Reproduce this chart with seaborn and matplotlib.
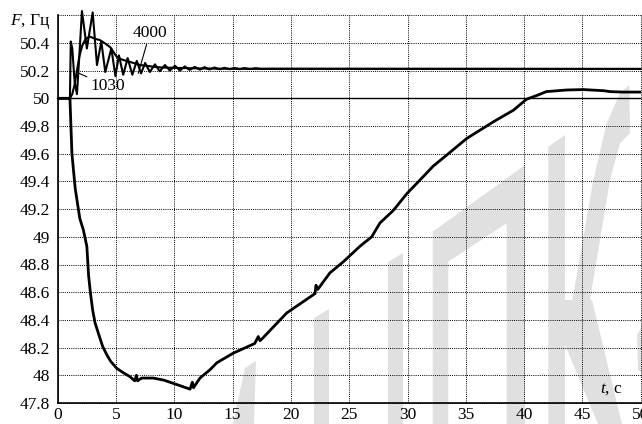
import numpy as np
import pandas as pd
import matplotlib
matplotlib.use("Agg")
import matplotlib.pyplot as plt
import seaborn as sns
from matplotlib.patches import Polygon

# ---------------- data ----------------
t_main = [0, 1.05, 1.10, 1.22, 1.50, 1.90, 2.20, 2.50, 2.65, 2.80, 3.00, 3.20, 3.50,
          3.85, 4.20, 4.55, 5.07, 5.60, 6.20, 6.60, 6.75, 6.85, 7.20, 8.20, 9.10,
          10.50, 11.35, 11.55, 11.65, 11.80, 12.20, 13.06, 13.64, 15.06, 16.90,
          17.20, 17.35, 17.60, 19.64, 22.07, 22.15, 22.30, 23.35, 24.50, 25.90,
          26.93, 27.64, 28.78, 29.93, 31.07, 32.20, 33.36, 35.08, 37.36, 39.10,
          40.20, 41.20, 41.90, 43.65, 45.10, 46.80, 47.40, 48.50, 50.0]
f_main = [50.0, 50.0, 49.88, 49.60, 49.35, 49.13, 49.05, 48.93, 48.72, 48.60, 48.47,
          48.38, 48.30, 48.21, 48.15, 48.10, 48.05, 48.02, 47.99, 47.96, 48.0,
          47.96, 47.98, 47.98, 47.965, 47.925, 47.90, 47.95, 47.91, 47.93, 47.98,
          48.04, 48.09, 48.16, 48.23, 48.28, 48.25, 48.27, 48.45, 48.59, 48.65,
          48.62, 48.74, 48.82, 48.93, 49.0, 49.10, 49.19, 49.31, 49.41, 49.51,
          49.59, 49.71, 49.83, 49.915, 49.993, 50.024, 50.048, 50.06, 50.063,
          50.055, 50.048, 50.045, 50.045]

t_4000 = [0, 1.05, 1.12, 1.25, 1.45, 1.65, 1.85, 2.08, 2.50, 3.00, 3.37, 3.74, 4.08,
          4.60, 4.95, 5.25, 5.62, 6.00, 6.40, 6.78, 7.15, 7.50, 7.90, 8.34, 8.75,
          9.20, 9.62, 10.06, 10.48, 10.90, 11.32, 11.75, 12.20, 12.60, 13.00,
          13.45, 13.90, 14.30, 14.75, 15.20, 15.60, 16.00, 16.50, 17.00, 17.50,
          18.00, 50.0]
f_4000 = [50.0, 50.0, 50.41, 50.36, 50.12, 50.03, 50.30, 50.63, 50.36, 50.62, 50.24,
          50.41, 50.19, 50.36, 50.16, 50.31, 50.17, 50.29, 50.17, 50.27, 50.18,
          50.255, 50.19, 50.245, 50.195, 50.24, 50.20, 50.235, 50.20, 50.23,
          50.205, 50.227, 50.207, 50.225, 50.208, 50.222, 50.209, 50.22, 50.21,
          50.219, 50.21, 50.218, 50.211, 50.217, 50.212, 50.213, 50.212]

t_1030 = [0, 1.05, 1.25, 1.45, 1.65, 1.85, 2.10, 2.40, 2.77, 3.20, 3.63, 4.00, 4.49,
          5.06, 5.50, 5.90, 6.50, 7.06, 7.60, 8.20, 9.00, 10.0, 11.0, 12.0, 13.5,
          15.0, 50.0]
f_1030 = [50.0, 50.0, 50.03, 50.10, 50.20, 50.30, 50.38, 50.43, 50.445, 50.43,
          50.42, 50.40, 50.37, 50.30, 50.28, 50.27, 50.255, 50.24, 50.235, 50.228,
          50.222, 50.22, 50.218, 50.216, 50.214, 50.213, 50.212]

nominal_f = 50.0
x_ticks = [0, 5, 10, 15, 20, 25, 30, 35, 40, 45, 50]
x_labels = ["0", "5", "10", "15", "20", "25", "30", "35", "40", "45", "50"]
y_ticks = [47.8, 48.0, 48.2, 48.4, 48.6, 48.8, 49.0, 49.2, 49.4, 49.6, 49.8,
           50.0, 50.2, 50.4, 50.6]
y_labels = ["47.8", "48", "48.2", "48.4", "48.6", "48.8", "49", "49.2", "49.4",
            "49.6", "49.8", "50", "50.2", "50.4", ""]

# ---------------- style ----------------
sns.set_theme(style="white")
plt.rcParams["font.family"] = ["Liberation Serif", "DejaVu Serif"]
plt.rcParams["mathtext.fontset"] = "custom"
plt.rcParams["mathtext.it"] = "Liberation Serif:italic"
plt.rcParams["mathtext.rm"] = "Liberation Serif"

W, H = 642, 424
fig = plt.figure(figsize=(W / 100, H / 100), dpi=100)
fig.patch.set_facecolor("white")
ax = fig.add_axes([57.7 / W, 21 / H, 583 / W, 387.8 / H])
ax.set_facecolor("none")

# watermark (decorative, figure pixel coords)
wm = "#e0e0e0"
shapes = [
    [(245, 368), (256, 361), (254, 424), (233, 424)],
    [(314, 318), (329, 309), (329, 424), (314, 424)],
    [(388, 262), (403, 253), (403, 424), (388, 424)],
    [(432.7, 231.7), (525, 165), (525, 424), (506.7, 424), (506.7, 223.3),
     (448.3, 261.7), (448.3, 424), (432.7, 424)],
    [(548.3, 146.7), (565, 135), (565, 424), (548.3, 424)],
    [(571.7, 303.3), (581.7, 246.7), (593.3, 180), (606.7, 123.3), (620, 93.3),
     (629.3, 85), (630, 133.3), (620, 143.3), (610, 180), (600, 240), (590, 300)],
    [(565, 300), (592, 300), (622, 424), (598, 424), (565, 345)],
    [(637, 335), (642, 326), (642, 373), (638, 370)],
]
for s in shapes:
    pts = [(x / W, 1 - y / H) for x, y in s]
    fig.add_artist(Polygon(pts, closed=True, transform=fig.transFigure,
                           facecolor=wm, edgecolor="none", zorder=-1))

# curves
sns.lineplot(x=t_main, y=f_main, ax=ax, color="black", lw=2.0,
             estimator=None, sort=False, zorder=4)
sns.lineplot(x=t_4000, y=f_4000, ax=ax, color="black", lw=1.5,
             estimator=None, sort=False, zorder=3)
ax.lines[-1].set_clip_on(False)
sns.lineplot(x=t_1030, y=f_1030, ax=ax, color="black", lw=1.5,
             estimator=None, sort=False, zorder=3)
ax.axhline(nominal_f, color="black", lw=1.0, zorder=2)

ax.set_xlim(0, 50)
ax.set_ylim(47.8, 50.6)
ax.set_xticks(x_ticks)
ax.set_xticklabels(x_labels)
ax.set_yticks(y_ticks)
ax.set_yticklabels(y_labels)
ax.tick_params(length=0, labelsize=12.5, colors="black")
ax.tick_params(axis="y", pad=5.5)
ax.tick_params(axis="x", pad=3)

ax.set_axisbelow(True)
ax.grid(True, color="black", linestyle=(0, (1, 1.2)), linewidth=0.7)
for gl in ax.get_xgridlines() + ax.get_ygridlines():
    gl.set_clip_on(False)

for side in ["top", "right"]:
    ax.spines[side].set_visible(False)
for side in ["left", "bottom"]:
    ax.spines[side].set_color("black")
    ax.spines[side].set_linewidth(1.2)
ax.set_xlabel("")
ax.set_ylabel("")

# labels
ax.text(-0.013, 0.985, "$F$, Гц", transform=ax.transAxes, ha="right",
        va="center", fontsize=12.5, color="black")
ax.text(47.45, 47.9, "$t$, с", ha="center", va="center", fontsize=12.5,
        color="black")
ax.annotate("4000", xy=(6.91, 50.18), xytext=(7.9, 50.47), ha="center",
            va="center", fontsize=12.5, color="black",
            arrowprops=dict(arrowstyle="-", lw=0.8, color="black",
                            shrinkA=0, shrinkB=0))
ax.annotate("1030", xy=(1.83, 50.18), xytext=(4.27, 50.09), ha="center",
            va="center", fontsize=12.5, color="black",
            arrowprops=dict(arrowstyle="-", lw=0.8, color="black",
                            shrinkA=0, shrinkB=0))

fig.savefig("out.png", dpi=100, facecolor="white")
